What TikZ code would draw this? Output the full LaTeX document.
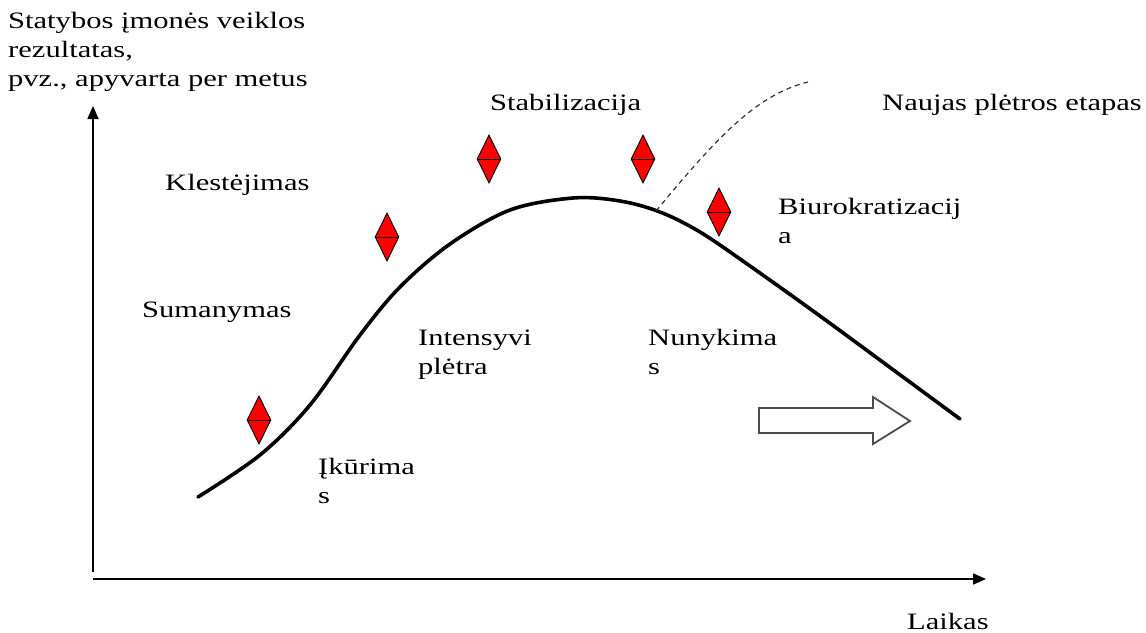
\documentclass[tikz,border=0pt]{standalone}
\usepackage{fontspec}
\setmainfont[FakeStretch=1.3]{Liberation Serif}
\usetikzlibrary{arrows.meta,shapes.geometric}
\begin{document}
\begin{tikzpicture}[x=1pt,y=-1pt,
  lbl/.style={anchor=base west,inner sep=0pt,align=left,font=\fontsize{23.5}{29}\selectfont},
  marker/.style={diamond,draw=black,fill=red,line width=0.9pt,inner sep=0pt,minimum width=24pt,minimum height=48pt},
  axis/.style={line width=1.6pt,-{Triangle[length=13pt,width=11pt]}},
  curve/.style={line width=3.6pt,line cap=round},
  newstage/.style={line width=1.2pt,dash pattern=on 5pt off 4pt,black!80}]
\useasboundingbox (0,0) rectangle (1146,632);
% axes
\coordinate (ybot) at (93,572);
\coordinate (ytop) at (93,106);
\coordinate (xleft) at (93,579);
\coordinate (xright) at (986,579);
\draw[axis] (ybot) -- (ytop);
\draw[axis] (xleft) -- (xright);
% main curve
\draw[curve] plot[smooth,tension=0.55] coordinates {(198,497) (260,455) (310,405) (360,335) (400,287) (450,244) (510,210) (573,198) (620,201) (660,212) (700,232) (750,266) (820,316) (903,377) (960,419)};
\coordinate (fork) at (656,211);
\coordinate (newend) at (808,82);
\draw[newstage] (fork) .. controls (715,140) and (755,95) .. (newend);
% markers
\foreach \n/\p in {m1/{(259,420)},m2/{(387,237)},m3/{(489,159)},m4/{(643,159)},m5/{(719,212)}}{
  \node[marker] (\n) at \p {};
  \draw[line width=0.9pt] (\n.west) -- (\n.east);
}
% block arrow
\draw[line width=1.8pt,draw=black!70,fill=white,line join=miter]
  (759,408) -- (873,408) -- (873,397) -- (910,421) -- (873,444) -- (873,433) -- (759,433) -- cycle;
% labels (base = last line's baseline)
\node[lbl] (ylab) at (8,86) {Statybos įmonės veiklos\\rezultatas,\\pvz., apyvarta per metus};
\node[lbl] (stab) at (490,110) {Stabilizacija};
\node[lbl] (naujas) at (882,110) {Naujas plėtros etapas};
\node[lbl] (klest) at (165,190) {Klestėjimas};
\node[lbl] (biur) at (778,243) {Biurokratizacij\\a};
\node[lbl] (suman) at (142,317) {Sumanymas};
\node[lbl] (intens) at (418,374) {Intensyvi\\plėtra};
\node[lbl] (nuny) at (648,374) {Nunykima\\s};
\node[lbl] (ikur) at (318,503) {Įkūrima\\s};
\node[lbl] (laik) at (907,629) {Laikas};
\end{tikzpicture}
\end{document}
